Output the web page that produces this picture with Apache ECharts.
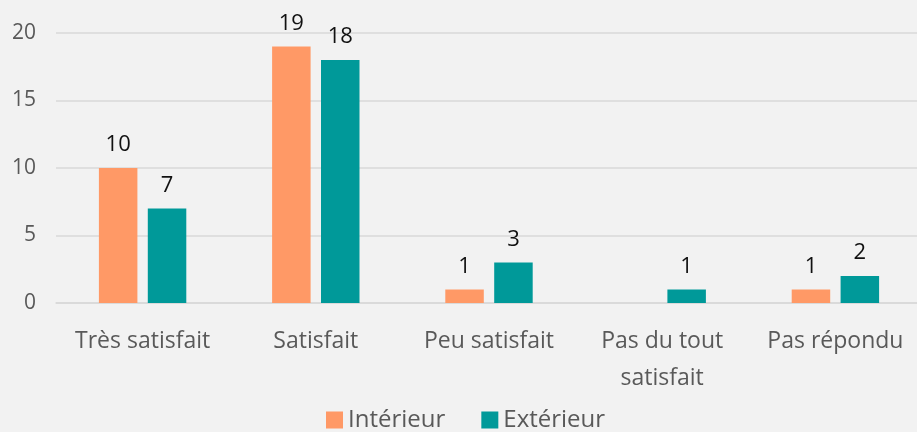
<!DOCTYPE html>
<html>
<head>
<meta charset="utf-8">
<script src="https://cdn.jsdelivr.net/npm/echarts@6/dist/echarts.min.js"></script>
<style>
html,body{margin:0;padding:0;background:#F2F2F2;overflow:hidden;}
#c{width:922px;height:432px;}
</style>
</head>
<body>
<div id="c"></div>
<script>
const categories = ['Très satisfait', 'Satisfait', 'Peu satisfait', 'Pas du tout\nsatisfait', 'Pas répondu'];
const interieur = [10, 19, 1, null, 1];
const exterieur = [7, 18, 3, 1, 2];
const seriesNames = ['Intérieur', 'Extérieur'];
const yTicks = { min: 0, max: 20, interval: 5 };

const FONT = '"Open Sans", "Noto Sans", sans-serif';
const chart = echarts.init(document.getElementById('c'), null, { renderer: 'canvas' });
const labelCfg = { show: true, position: 'top', distance: 12, color: '#111', fontSize: 22, fontFamily: FONT };
chart.setOption({
  backgroundColor: '#F2F2F2',
  animation: false,
  textStyle: { fontFamily: FONT },
  grid: { left: 56, right: 0, top: 33, bottom: 129, containLabel: false },
  legend: {
    bottom: 0, left: 326, padding: 0, itemWidth: 17, itemHeight: 17, itemGap: 36,
    icon: 'rect',
    textStyle: { fontSize: 24, color: '#595959', fontFamily: FONT },
    data: seriesNames
  },
  xAxis: {
    type: 'category', data: categories,
    axisLine: { show: true, lineStyle: { color: '#D9D9D9', width: 1.5 } },
    axisTick: { show: false },
    axisLabel: { color: '#595959', fontSize: 23, margin: 20, lineHeight: 37, fontFamily: FONT, interval: 0 }
  },
  yAxis: {
    type: 'value', min: yTicks.min, max: yTicks.max, interval: yTicks.interval,
    axisLine: { show: false }, axisTick: { show: false },
    splitLine: { lineStyle: { color: '#D9D9D9', width: 1.5 } },
    axisLabel: { color: '#595959', fontSize: 21, margin: 20, fontFamily: FONT }
  },
  series: [
    { name: seriesNames[0], type: 'bar', data: interieur, barWidth: 38.5, barGap: '27%',
      itemStyle: { color: '#FF9966' }, label: labelCfg },
    { name: seriesNames[1], type: 'bar', data: exterieur, barWidth: 38.5,
      itemStyle: { color: '#009999' }, label: labelCfg }
  ]
});
</script>
</body>
</html>
